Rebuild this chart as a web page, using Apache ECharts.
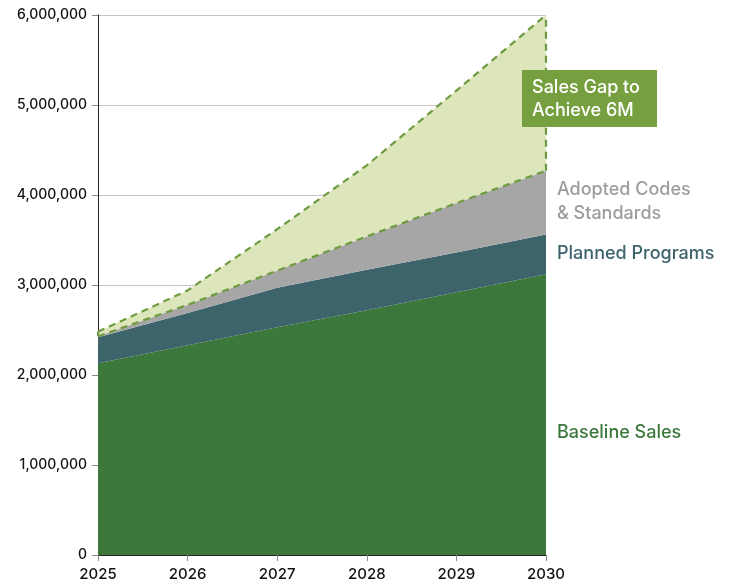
<!DOCTYPE html>
<html>
<head>
<meta charset="utf-8">
<script src="https://cdn.jsdelivr.net/npm/echarts@6/dist/echarts.min.js"></script>
<style>html,body{margin:0;padding:0;background:#fff}#c{width:739px;height:586px}</style>
</head>
<body>
<div id="c"></div>
<script>
const years = ['2025', '2026', '2027', '2028', '2029', '2030'];
const baselineSales = [2130000, 2330000, 2530000, 2720000, 2920000, 3120000];
const plannedPrograms = [290000, 360000, 440000, 450000, 440000, 440000];
const adoptedCodes = [10000, 90000, 190000, 370000, 550000, 710000];
const salesGap = [50000, 160000, 460000, 790000, 1250000, 1730000];
const yTicks = [0, 1000000, 2000000, 3000000, 4000000, 5000000, 6000000];

const C_BASE = '#3c773c', C_PLAN = '#3d636b', C_ADOPT = '#a6a6a6', C_GAP = '#dde5bb', C_DASH = '#6e9b40';
const dash = { color: C_DASH, width: 2.2, type: [7, 5] };

const i0 = 0, iN = years.length - 1;
const grayTop = i => baselineSales[i] + plannedPrograms[i] + adoptedCodes[i];
const totalTop = i => grayTop(i) + salesGap[i];

const chart = echarts.init(document.getElementById('c'));
const font = 'Inter, Roboto, "Liberation Sans", Arial, sans-serif';
chart.setOption({
  animation: false,
  grid: { left: 98, right: 193, top: 15, bottom: 31, containLabel: false },
  xAxis: {
    type: 'category', data: years, boundaryGap: false,
    axisLine: { lineStyle: { color: '#222', width: 1 } },
    axisTick: { show: true, length: 6, lineStyle: { color: '#888' } },
    axisLabel: { color: '#111', fontSize: 15, fontWeight: 500, fontFamily: font, margin: 12 },
    splitLine: { show: false }
  },
  yAxis: {
    type: 'value', min: yTicks[0], max: yTicks[yTicks.length - 1], interval: yTicks[1] - yTicks[0],
    axisLine: { show: true, lineStyle: { color: '#222', width: 1 } },
    axisTick: { show: true, length: 6, lineStyle: { color: '#888' } },
    axisLabel: { color: '#111', fontSize: 14, fontWeight: 500, fontFamily: font, margin: 11, formatter: v => v.toLocaleString('en-US') },
    splitLine: { show: true, lineStyle: { color: '#c4c4c4', width: 1 } }
  },
  series: [
    { name: 'Baseline Sales', type: 'line', stack: 'a', data: baselineSales, showSymbol: false,
      lineStyle: { width: 0 }, areaStyle: { color: C_BASE, opacity: 1 }, z: 2 },
    { name: 'Planned Programs', type: 'line', stack: 'a', data: plannedPrograms, showSymbol: false,
      lineStyle: { width: 0 }, areaStyle: { color: C_PLAN, opacity: 1 }, z: 2 },
    { name: 'Adopted Codes & Standards', type: 'line', stack: 'a', data: adoptedCodes, showSymbol: false,
      lineStyle: dash, areaStyle: { color: C_ADOPT, opacity: 1 }, z: 3 },
    { name: 'Sales Gap to Achieve 6M', type: 'line', stack: 'a', data: salesGap, showSymbol: false,
      lineStyle: dash, areaStyle: { color: C_GAP, opacity: 1 }, z: 3,
      markLine: {
        silent: true, symbol: 'none', label: { show: false },
        lineStyle: dash,
        data: [
          [{ xAxis: years[iN], yAxis: grayTop(iN) }, { xAxis: years[iN], yAxis: totalTop(iN) }],
          [{ xAxis: years[i0], yAxis: grayTop(i0) }, { xAxis: years[i0], yAxis: totalTop(i0) }]
        ]
      }
    }
  ],
  graphic: [
    { type: 'rect', left: 522, top: 70, shape: { width: 135, height: 57 }, style: { fill: '#76a040' }, z: 10 },
    { type: 'text', left: 532, top: 76, z: 11,
      style: { text: 'Sales Gap to\nAchieve 6M', fill: '#fff', font: '500 18px ' + font, lineHeight: 23 } },
    { type: 'text', left: 557, top: 178, z: 11,
      style: { text: 'Adopted Codes\n& Standards', fill: '#9c9c9c', font: '500 18px ' + font, lineHeight: 24 } },
    { type: 'text', left: 557, top: 245, z: 11,
      style: { text: 'Planned Programs', fill: C_PLAN, font: '500 18px ' + font } },
    { type: 'text', left: 557, top: 424, z: 11,
      style: { text: 'Baseline Sales', fill: C_BASE, font: '500 18px ' + font } }
  ]
});
</script>
</body>
</html>
